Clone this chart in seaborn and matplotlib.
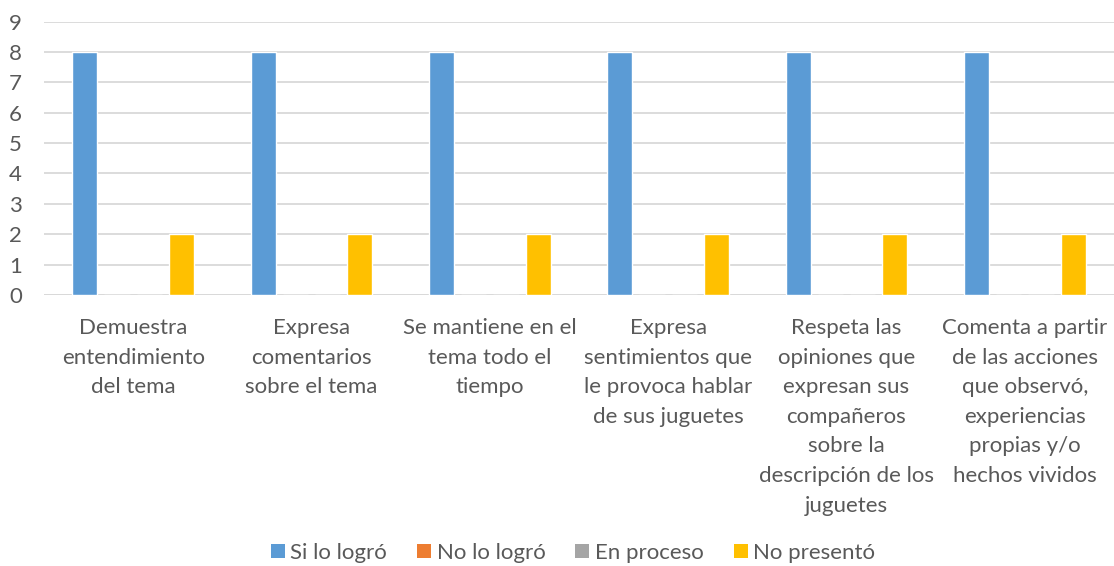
import matplotlib
matplotlib.use("Agg")
import matplotlib.pyplot as plt
import seaborn as sns
import pandas as pd
from matplotlib.patches import Patch

categories = [
    "Demuestra\nentendimiento\ndel tema",
    "Expresa\ncomentarios\nsobre el tema",
    "Se mantiene en el\ntema todo el\ntiempo",
    "Expresa\nsentimientos que\nle provoca hablar\nde sus juguetes",
    "Respeta las\nopiniones que\nexpresan sus\ncompañeros\nsobre la\ndescripción de los\njuguetes",
    "Comenta a partir\nde las acciones\nque observó,\nexperiencias\npropias y/o\nhechos vividos",
]
series_names = ["Si lo logró", "No lo logró", "En proceso", "No presentó"]
si_lo_logro = [8, 8, 8, 8, 8, 8]
no_lo_logro = [0, 0, 0, 0, 0, 0]
en_proceso = [0, 0, 0, 0, 0, 0]
no_presento = [2, 2, 2, 2, 2, 2]
colors = ["#5B9BD5", "#ED7D31", "#A5A5A5", "#FFC000"]
yticks = list(range(0, 10))

rows = []
for name, vals in zip(series_names, [si_lo_logro, no_lo_logro, en_proceso, no_presento]):
    for c, v in zip(categories, vals):
        rows.append({"cat": c, "serie": name, "valor": v})
df = pd.DataFrame(rows)

sns.set_theme(style="white")
plt.rcParams["font.family"] = ["Lato", "DejaVu Sans"]
text_color = "#595959"

fig = plt.figure(figsize=(11.14, 5.66), dpi=100)
ax = fig.add_axes([44 / 1114, 1 - 295 / 566, 1 - 44 / 1114, (295 - 21.5) / 566])

sns.barplot(data=df, x="cat", y="valor", hue="serie", order=categories,
            hue_order=series_names, palette=colors, width=0.725, gap=0.226,
            ax=ax, legend=False, saturation=1)

ax.set_ylim(0, 9)
ax.set_xlim(-0.5, 5.5)
ax.set_yticks(yticks)
ax.yaxis.grid(True, color="#D9D9D9", linewidth=1.3)
ax.set_axisbelow(True)
for s in ax.spines.values():
    s.set_visible(False)
ax.axhline(0, color="#D9D9D9", linewidth=1.3, zorder=0.5)
ax.set_xlabel("")
ax.set_ylabel("")
ax.tick_params(axis="both", length=0, colors=text_color, labelsize=16)
ax.tick_params(axis="x", pad=16.5)
ax.tick_params(axis="y", pad=16)
for lbl in ax.get_xticklabels():
    lbl.set_linespacing(1.6)
    lbl.set_va("top")

handles = [Patch(facecolor=c, edgecolor="none") for c in colors]
fig.legend(handles, series_names, loc="center", bbox_to_anchor=(573 / 1114, 1 - 553 / 566),
           ncol=4, frameon=False, fontsize=16, labelcolor=text_color,
           handlelength=0.63, handleheight=0.63, handletextpad=0.23, columnspacing=1.36,
           borderpad=0.2)

fig.savefig("out.png", dpi=100)
